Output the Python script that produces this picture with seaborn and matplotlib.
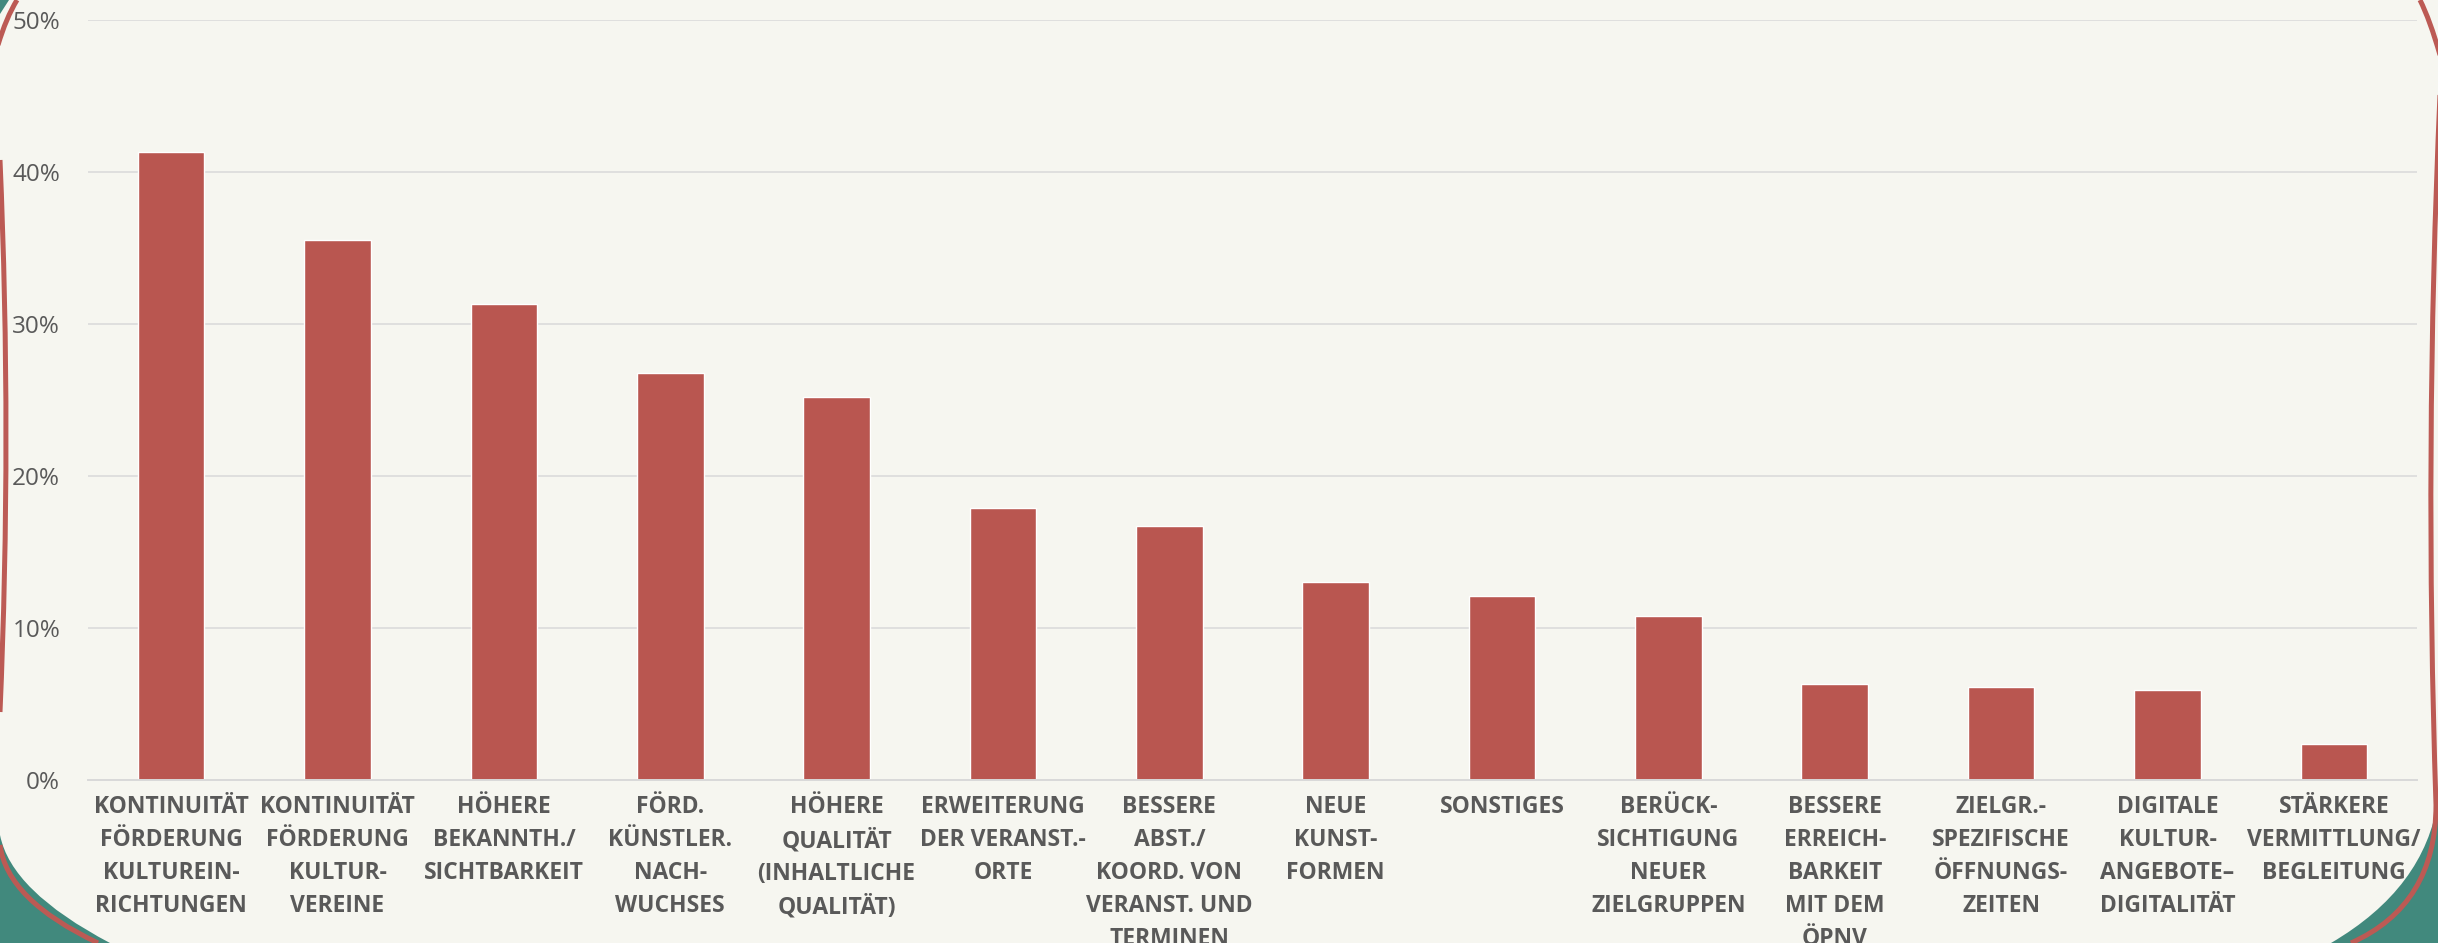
import matplotlib
matplotlib.use("Agg")
import matplotlib.pyplot as plt
import seaborn as sns
import pandas as pd
from matplotlib.path import Path
from matplotlib.patches import PathPatch, Polygon
from matplotlib.ticker import PercentFormatter

categories = [
    "KONTINUITÄT\nFÖRDERUNG\nKULTUREIN-\nRICHTUNGEN",
    "KONTINUITÄT\nFÖRDERUNG\nKULTUR-\nVEREINE",
    "HÖHERE\nBEKANNTH./\nSICHTBARKEIT",
    "FÖRD.\nKÜNSTLER.\nNACH-\nWUCHSES",
    "HÖHERE\nQUALITÄT\n(INHALTLICHE\nQUALITÄT)",
    "ERWEITERUNG\nDER VERANST.-\nORTE",
    "BESSERE\nABST./\nKOORD. VON\nVERANST. UND\nTERMINEN",
    "NEUE\nKUNST-\nFORMEN",
    "SONSTIGES",
    "BERÜCK-\nSICHTIGUNG\nNEUER\nZIELGRUPPEN",
    "BESSERE\nERREICH-\nBARKEIT\nMIT DEM\nÖPNV",
    "ZIELGR.-\nSPEZIFISCHE\nÖFFNUNGS-\nZEITEN",
    "DIGITALE\nKULTUR-\nANGEBOTE–\nDIGITALITÄT",
    "STÄRKERE\nVERMITTLUNG/\nBEGLEITUNG",
]
shares = [0.413, 0.355, 0.313, 0.268, 0.252, 0.179, 0.167, 0.130,
          0.121, 0.108, 0.063, 0.061, 0.059, 0.024]
y_ticks = [0.0, 0.1, 0.2, 0.3, 0.4, 0.5]

BAR = "#B95650"
CREAM = "#F6F6F0"
TEAL = "#41897D"
RED = "#BC5A54"
GRID = "#D9D9D9"
TEXT = "#595959"

sns.set_theme(style="whitegrid")
plt.rcParams["font.family"] = ["Open Sans", "DejaVu Sans"]

W, H = 2438, 943
fig = plt.figure(figsize=(W / 100, H / 100), dpi=100)
fig.patch.set_facecolor(TEAL)

# decorative slide background (pixel coordinates, y downwards)
bg = fig.add_axes([0, 0, 1, 1], zorder=-1)
bg.set_xlim(0, W)
bg.set_ylim(H, 0)
bg.axis("off")

M, L3, L2 = Path.MOVETO, Path.CURVE3, Path.LINETO
cream = Path(
    [(-50, -50), (W + 50, -50), (W + 50, 790), (W, 800),
     (2425, 888), (2331, 943), (110, 943), (11, 891), (0, 835),
     (-50, 835), (-50, -50)],
    [M, L2, L2, L2, L3, L3, L2, L3, L3, L2, L2],
)
bg.add_patch(PathPatch(cream, facecolor=CREAM, edgecolor="none"))
bg.add_patch(Polygon([(0, 0), (9, 0), (0, 14)], closed=True,
                     facecolor=TEAL, edgecolor="none"))

red_paths = [
    Path([(17, 0), (6, 18), (-2, 45)], [M, L3, L3]),
    Path([(0, 160), (12, 436), (0, 712)], [M, L3, L3]),
    Path([(0, 845), (7, 900), (98, 943)], [M, L3, L3]),
    Path([(2420, 0), (2430, 20), (2440, 55)], [M, L3, L3]),
    Path([(2440, 95), (2424, 450), (2436, 805), (2436, 905), (2351, 943)],
         [M, L3, L3, L3, L3]),
]
for p in red_paths:
    bg.add_patch(PathPatch(p, facecolor="none", edgecolor=RED, lw=3.6))

# main chart
ax = fig.add_axes([88 / W, 1 - 780 / H, (2417 - 88) / W, 760 / H], zorder=1)
ax.set_facecolor("none")

df = pd.DataFrame({"kategorie": categories, "anteil": shares})
sns.barplot(data=df, x="kategorie", y="anteil", color=BAR, width=0.4,
            saturation=1, ax=ax)

ax.set_ylim(0, 0.5)
ax.set_yticks(y_ticks)
ax.yaxis.set_major_formatter(PercentFormatter(1, decimals=0))
ax.set_xlabel("")
ax.set_ylabel("")
ax.grid(axis="y", color=GRID, lw=1.1)
ax.grid(axis="x", visible=False)
for side in ["top", "left", "right"]:
    ax.spines[side].set_visible(False)
ax.spines["bottom"].set_color(GRID)
ax.spines["bottom"].set_linewidth(1.4)

ax.tick_params(axis="y", length=0, pad=20, labelsize=17.5, labelcolor=TEXT)
ax.tick_params(axis="x", length=0, pad=11)
for lbl in ax.get_xticklabels():
    lbl.set_fontsize(16.5)
    lbl.set_fontweight("bold")
    lbl.set_color(TEXT)
    lbl.set_linespacing(1.5)
    lbl.set_verticalalignment("top")
    lbl.set_horizontalalignment("center")

fig.savefig("out.png", dpi=100, facecolor=fig.get_facecolor())
